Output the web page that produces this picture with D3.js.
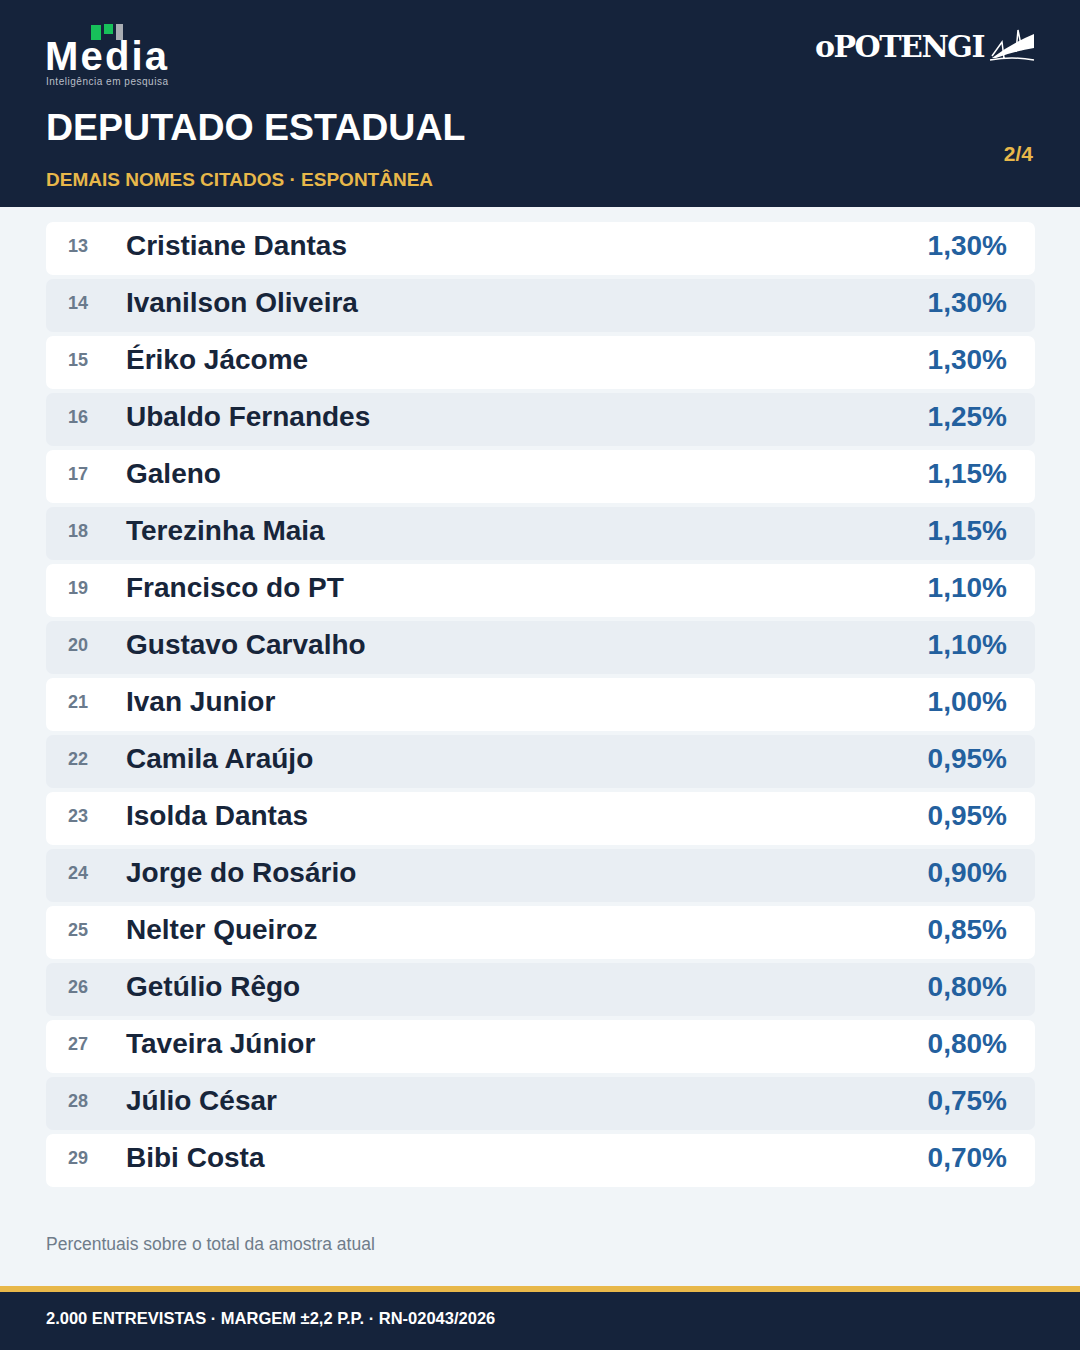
<!DOCTYPE html>
<html><head><meta charset="utf-8">
<script src="https://cdn.jsdelivr.net/npm/d3@7"></script>
<style>body{margin:0;background:#f1f5f8}svg{display:block;font-family:"Liberation Sans",Arial,sans-serif}</style>
</head><body><div id="chart"></div>
<script>
// data
const ranks = [13,14,15,16,17,18,19,20,21,22,23,24,25,26,27,28,29];
const names = ["Cristiane Dantas","Ivanilson Oliveira","Ériko Jácome","Ubaldo Fernandes","Galeno","Terezinha Maia","Francisco do PT","Gustavo Carvalho","Ivan Junior","Camila Araújo","Isolda Dantas","Jorge do Rosário","Nelter Queiroz","Getúlio Rêgo","Taveira Júnior","Júlio César","Bibi Costa"];
const values = [1.30,1.30,1.30,1.25,1.15,1.15,1.10,1.10,1.00,0.95,0.95,0.90,0.85,0.80,0.80,0.75,0.70];

const W = 1080, H = 1350;
const navy = "#15233b", gold = "#e8b84a";
const svg = d3.select("#chart").append("svg").attr("width", W).attr("height", H);

svg.append("rect").attr("width", W).attr("height", H).attr("fill", "#f1f5f8");

// header
svg.append("rect").attr("width", W).attr("height", 207).attr("fill", navy);
// media logo
svg.append("rect").attr("x", 91).attr("y", 25).attr("width", 10).attr("height", 15).attr("fill", "#17c15a");
svg.append("rect").attr("x", 104).attr("y", 24).attr("width", 9).attr("height", 10).attr("fill", "#17c15a");
svg.append("rect").attr("x", 116).attr("y", 24).attr("width", 7).attr("height", 16).attr("fill", "#a9adb3");
svg.append("text").attr("x", 45).attr("y", 70).attr("fill", "#fff").attr("font-size", 40).attr("font-weight", 900)
  .attr("textLength", 122).text("Media");
svg.append("text").attr("x", 46).attr("y", 85).attr("fill", "#b9bec7").attr("font-size", 10).attr("textLength", 122)
  .text("Inteligência em pesquisa");
// o potengi
svg.append("text").attr("x", 815).attr("y", 57).attr("fill", "#fff").attr("font-size", 30).attr("font-weight", 700)
  .attr("font-family", "'DejaVu Serif',serif").attr("letter-spacing", -1.5).text("oPOTENGI");
svg.append("path").attr("d", "M992,58 Q1010,44 1034,34 L1034,48 Q1012,52 996,58 Z").attr("fill", "#fff");
svg.append("path").attr("d", "M992,56 L1002,42 L1004,58 M1016,52 L1018,30 L1022,50 M990,60 Q1012,56 1034,60")
  .attr("stroke", "#fff").attr("stroke-width", 1.5).attr("fill", "none");

svg.append("text").attr("x", 46).attr("y", 140).attr("fill", "#fff").attr("font-size", 37.5).attr("font-weight", 700)
  .text("DEPUTADO ESTADUAL");
svg.append("text").attr("x", 46).attr("y", 186).attr("fill", gold).attr("font-size", 19).attr("font-weight", 700)
  .text("DEMAIS NOMES CITADOS · ESPONTÂNEA");
svg.append("text").attr("x", 1033).attr("y", 161).attr("fill", gold).attr("font-size", 21).attr("font-weight", 700)
  .attr("text-anchor", "end").text("2/4");

// rows: pitch 57, height 53
const y = d3.scaleBand().domain(ranks).range([222, 222 + 57 * ranks.length - 4]).paddingInner(4 / 57);
const rows = svg.append("g").selectAll("g").data(ranks).join("g")
  .attr("transform", d => `translate(0,${y(d)})`);
rows.append("rect").attr("x", 46).attr("width", 989).attr("height", y.bandwidth()).attr("rx", 7)
  .attr("fill", (d, i) => i % 2 ? "#e9eef3" : "#ffffff");
rows.append("text").attr("x", 68).attr("y", y.bandwidth() / 2 + 3).attr("fill", "#6a7a8c")
  .attr("font-size", 18).attr("font-weight", 700).text(d => d);
rows.append("text").attr("x", 126).attr("y", y.bandwidth() / 2 + 6).attr("fill", "#17253a")
  .attr("font-size", 28).attr("font-weight", 700).text((d, i) => names[i]);
const fmt = v => v.toFixed(2).replace(".", ",") + "%";
rows.append("text").attr("x", 1007).attr("y", y.bandwidth() / 2 + 6).attr("fill", "#23609e")
  .attr("text-anchor", "end").attr("font-size", 28).attr("font-weight", 700).text((d, i) => fmt(values[i]));

svg.append("text").attr("x", 46).attr("y", 1250).attr("fill", "#6f7c8a").attr("font-size", 17.5)
  .text("Percentuais sobre o total da amostra atual");

// footer
svg.append("rect").attr("y", 1286).attr("width", W).attr("height", 6).attr("fill", gold);
svg.append("rect").attr("y", 1292).attr("width", W).attr("height", 58).attr("fill", navy);
svg.append("text").attr("x", 46).attr("y", 1324).attr("fill", "#fff").attr("font-size", 16.5).attr("font-weight", 700)
  .text("2.000 ENTREVISTAS · MARGEM ±2,2 P.P. · RN-02043/2026");
</script></body></html>
